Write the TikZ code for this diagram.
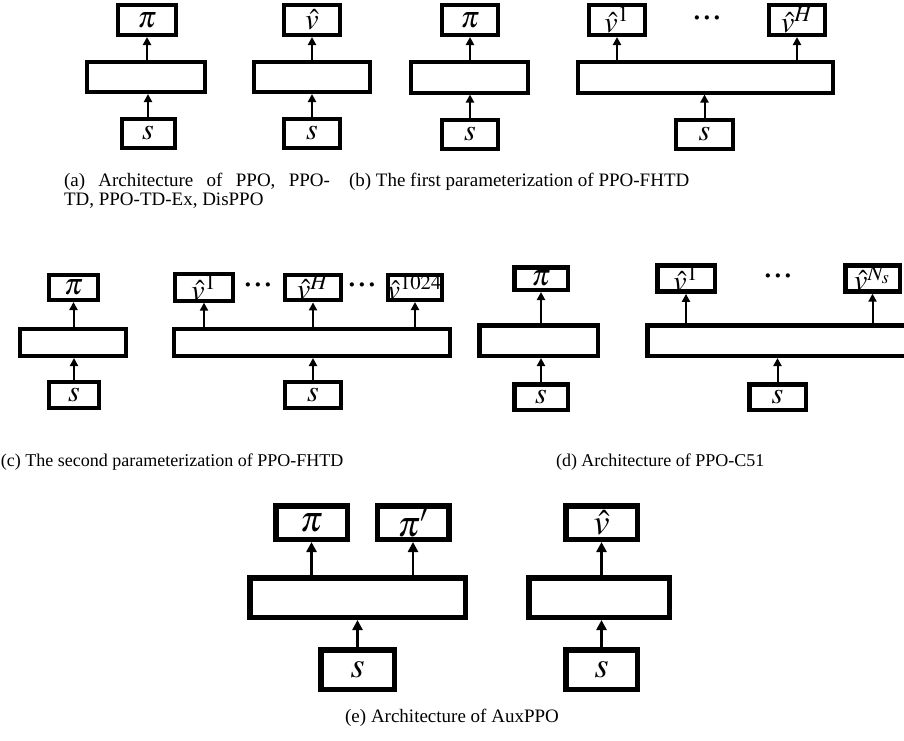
\documentclass[tikz,border=0pt]{standalone}
\usepackage{mathptmx}
\usepackage[no-math]{fontspec}
\setmainfont{Liberation Serif}
\usetikzlibrary{arrows.meta}
\tikzset{bx/.style 2 args={draw,line width=2pt,inner sep=0pt,
           minimum width=#1*0.5pt,minimum height=#2*0.5pt,
           font=\fontsize{15}{15}\selectfont},
         dts/.style={inner sep=0pt,font=\fontsize{13}{13}\selectfont\bfseries},
         captxt/.style={inner sep=0pt,font=\fontsize{9.5}{9.5}\selectfont}}
\newcommand{\threedots}{·\kern0.7pt·\kern0.7pt·}

\begin{document}
\begin{tikzpicture}[x=0.5pt,y=-0.5pt,line width=1pt,
    >={Triangle[length=4pt,width=4pt]}]
  \useasboundingbox (0,0) rectangle (904,740);

  % (a)
  \node[bx={58}{30}] (api) at (147,20) {$\pi$};
  \node[bx={118}{30}] (abody1) at (146,77) {};
  \node[bx={53}{29}] (as1) at (148,133.5) {$s$};
  \node[bx={56}{30}] (av) at (312,20) {$\hat{v}$};
  \node[bx={116}{30}] (abody2) at (312,77) {};
  \node[bx={56}{29}] (as2) at (312,133.5) {$s$};

  \draw[->] (as1.north) -- (as1 |- abody1.south);
  \draw[->] (abody1.north -| api) -- (api.south);
  \draw[->] (as2.north) -- (as2 |- abody2.south);
  \draw[->] (abody2.north -| av) -- (av.south);

  % (b)
  \node[bx={56}{30}] (bpi) at (470,20) {$\pi$};
  \node[bx={117}{31}] (bbody1) at (469.5,77) {};
  \node[bx={56}{29}] (bs1) at (470,134) {$s$};
  \node[bx={56}{30}] (bv1) at (617,20) {$\hat{v}^{1}$};
  \node[dts] (bdots) at (707,21) {\threedots};
  \node[bx={56}{30}] (bvH) at (797,20) {$\hat{v}^{H}$};
  \node[bx={255}{31}] (bbody2) at (705.5,77) {};
  \node[bx={57}{29}] (bs2) at (704.5,134) {$s$};

  \draw[->] (bs1.north) -- (bs1 |- bbody1.south);
  \draw[->] (bbody1.north -| bpi) -- (bpi.south);
  \draw[->] (bs2.north) -- (bs2 |- bbody2.south);
  \draw[->] (bbody2.north -| bv1) -- (bv1.south);
  \draw[->] (bbody2.north -| bvH) -- (bvH.south);

  \node[captxt,text width=133pt,align=justify,anchor=north west] (capa) at (63,172)
    {(a) Architecture of PPO, PPO-\linebreak TD, PPO-TD-Ex, DisPPO};
  \node[captxt,anchor=base west] (capb) at (348,186)
    {(b) The first parameterization of PPO-FHTD};

  % (c)
  \node[bx={49}{25}] (cpi) at (73.5,287.5) {$\pi$};
  \node[bx={106}{27}] (cbody1) at (73,342.5) {};
  \node[bx={50}{26}] (cs1) at (74,395) {$s$};
  \node[bx={58}{25}] (cv1) at (204,287.5) {$\hat{v}^{1}$};
  \node[dts] (cdots1) at (258,288.5) {\threedots};
  \node[bx={56}{25}] (cvH) at (313,287.5) {$\hat{v}^{H}$};
  \node[dts] (cdots2) at (362,288.5) {\threedots};
  \node[bx={52}{25},font=\fontsize{14}{14}\selectfont] (cvK) at (415,287.5) {$\hat{v}^{1024}$};
  \node[bx={276}{27}] (cbody2) at (312,342.5) {};
  \node[bx={56}{26}] (cs2) at (313,395) {$s$};

  \draw[->] (cs1.north) -- (cs1 |- cbody1.south);
  \draw[->] (cbody1.north -| cpi) -- (cpi.south);
  \draw[->] (cs2.north) -- (cs2 |- cbody2.south);
  \draw[->] (cbody2.north -| cv1) -- (cv1.south);
  \draw[->] (cbody2.north -| cvH) -- (cvH.south);
  \draw[->] (cbody2.north -| cvK) -- (cvK.south);

  \node[captxt,anchor=base west,font=\fontsize{9}{9}\selectfont] (capc) at (0,466)
    {(c) The second parameterization of PPO-FHTD};

  % (d)
  \node[bx={53.5}{22.5},line width=2.25pt] (dpi) at (541,278.5) {$\pi$};
  \node[bx={118.5}{30.5},line width=2.25pt] (dbody1) at (538.5,340.5) {};
  \node[bx={53.5}{25.5},line width=2.25pt] (ds1) at (541,397) {$s$};
  \node[bx={57.5}{22.5},line width=2.25pt] (dv1) at (686,278.5) {$\hat{v}^{1}$};
  \node[dts] (ddots) at (778,279.5) {\threedots};
  \node[bx={54.5}{22.5},line width=2.25pt] (dvN) at (872.5,278.5) {$\hat{v}^{N_s}$};
  \node[bx={262.5}{30.5},line width=2.25pt] (dbody2) at (778.5,340.5) {};
  \node[bx={56.5}{25.5},line width=2.25pt] (ds2) at (777.5,397) {$s$};

  \draw[->] (ds1.north) -- (ds1 |- dbody1.south);
  \draw[->] (dbody1.north -| dpi) -- (dpi.south);
  \draw[->] (ds2.north) -- (ds2 |- dbody2.south);
  \draw[->] (dbody2.north -| dv1) -- (dv1.south);
  \draw[->] (dbody2.north -| dvN) -- (dvN.south);

  \node[captxt,anchor=base west,font=\fontsize{9}{9}\selectfont] (capd) at (555,466) {(d) Architecture of PPO-C51};

  % (e)
  \node[bx={71.5}{33.5},line width=2.75pt,font=\fontsize{18}{18}\selectfont] (epi) at (311.5,522.5) {$\pi$};
  \node[bx={71.5}{33.5},line width=2.75pt,font=\fontsize{18}{18}\selectfont] (epi2) at (413,522.5) {$\pi'$};
  \node[bx={215.5}{39.5},line width=2.75pt] (ebody1) at (357.5,597.5) {};
  \node[bx={73.5}{39.5},line width=2.75pt,font=\fontsize{18}{18}\selectfont] (es1) at (357.5,669.5) {$s$};
  \node[bx={71.5}{33.5},line width=2.75pt,font=\fontsize{18}{18}\selectfont] (ev) at (601.5,522.5) {$\hat{v}$};
  \node[bx={140.5}{39.5},line width=2.75pt] (ebody2) at (599,597.5) {};
  \node[bx={71.5}{39.5},line width=2.75pt,font=\fontsize{18}{18}\selectfont] (es2) at (601.5,669.5) {$s$};

  \draw[->,line width=1.3pt,>={Triangle[length=5pt,width=5pt]}] (es1.north) -- (es1 |- ebody1.south);
  \draw[->,line width=1.3pt,>={Triangle[length=5pt,width=5pt]}] (ebody1.north -| epi) -- (epi.south);
  \draw[->,line width=1.3pt,>={Triangle[length=5pt,width=5pt]}] (ebody1.north -| epi2) -- (epi2.south);
  \draw[->,line width=1.3pt,>={Triangle[length=5pt,width=5pt]}] (es2.north) -- (es2 |- ebody2.south);
  \draw[->,line width=1.3pt,>={Triangle[length=5pt,width=5pt]}] (ebody2.north -| ev) -- (ev.south);

  \node[captxt] (cape) at (452,718) {(e) Architecture of AuxPPO};
\end{tikzpicture}
\end{document}
